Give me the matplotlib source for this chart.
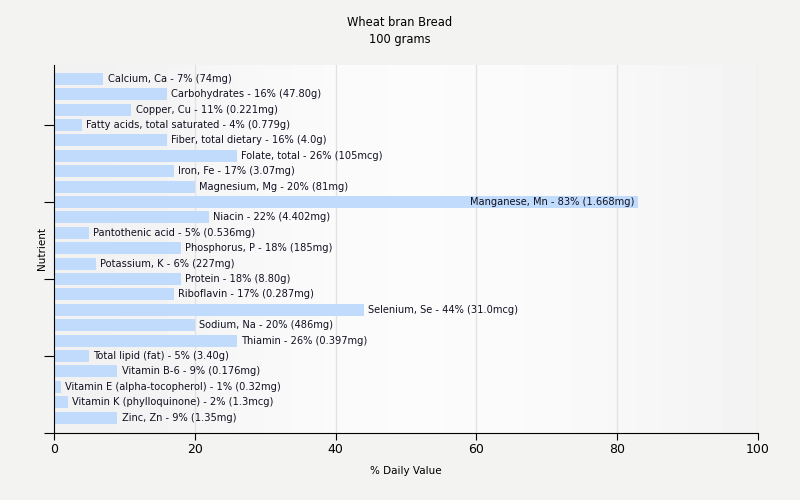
import numpy as np
import matplotlib
matplotlib.use("Agg")
import matplotlib.pyplot as plt

nutrients = [
    "Calcium, Ca", "Carbohydrates", "Copper, Cu", "Fatty acids, total saturated",
    "Fiber, total dietary", "Folate, total", "Iron, Fe", "Magnesium, Mg",
    "Manganese, Mn", "Niacin", "Pantothenic acid", "Phosphorus, P",
    "Potassium, K", "Protein", "Riboflavin", "Selenium, Se", "Sodium, Na",
    "Thiamin", "Total lipid (fat)", "Vitamin B-6", "Vitamin E (alpha-tocopherol)",
    "Vitamin K (phylloquinone)", "Zinc, Zn",
]
percents = [7, 16, 11, 4, 16, 26, 17, 20, 83, 22, 5, 18, 6, 18, 17, 44, 20, 26, 5, 9, 1, 2, 9]
amounts = [
    "74mg", "47.80g", "0.221mg", "0.779g", "4.0g", "105mcg", "3.07mg", "81mg",
    "1.668mg", "4.402mg", "0.536mg", "185mg", "227mg", "8.80g", "0.287mg",
    "31.0mcg", "486mg", "0.397mg", "3.40g", "0.176mg", "0.32mg", "1.3mcg", "1.35mg",
]

bg = "#f3f3f1"
fig = plt.figure(figsize=(8, 5), dpi=100, facecolor=bg)
ax = fig.add_axes([0.0675, 0.134, 0.88, 0.736])

# background gradient of plot area
grad = np.array([[0.945, 0.96, 0.975, 0.985, 0.985, 0.98, 0.972, 0.955]])
ax.imshow(grad, cmap="gray", vmin=0, vmax=1, aspect="auto",
          extent=(0, 100, 23, -0.9), interpolation="bicubic", zorder=0)

for x in [20, 40, 60, 80, 100]:
    ax.axvline(x, color="#e2e2e2", lw=1, zorder=1)

y = np.arange(len(nutrients))
ax.barh(y, percents, height=0.78, color="#c0dbfc", zorder=2)

for i, (name, p, a) in enumerate(zip(nutrients, percents, amounts)):
    label = f"{name} - {p}% ({a})"
    if p > 70:
        ax.text(p - 0.6, i, label, ha="right", va="center", fontsize=7.1,
                color="#111122", zorder=3)
    else:
        ax.text(p + 0.6, i, label, ha="left", va="center", fontsize=7.1,
                color="#111122", zorder=3)

ax.set_xlim(0, 100)
ax.set_ylim(23, -0.9)
ax.set_xticks([0, 20, 40, 60, 80, 100])
ax.set_yticks([3, 8, 13, 18, 23])
ax.set_yticklabels([])
ax.tick_params(axis="x", length=5, labelsize=9, colors="black", pad=2)
ax.tick_params(axis="y", length=7)
for s in ["top", "right"]:
    ax.spines[s].set_visible(False)
ax.set_xlabel("% Daily Value", fontsize=7.5)
ax.set_ylabel("Nutrient", fontsize=7.5)
ax.xaxis.set_label_coords(0.5, -0.09)
ax.yaxis.set_label_coords(-0.01, 0.5)

fig.text(0.5, 0.955, "Wheat bran Bread", ha="center", va="center", fontsize=8.3)
fig.text(0.5, 0.92, "100 grams", ha="center", va="center", fontsize=8.3)

fig.savefig("out.png", dpi=100, facecolor=bg)
